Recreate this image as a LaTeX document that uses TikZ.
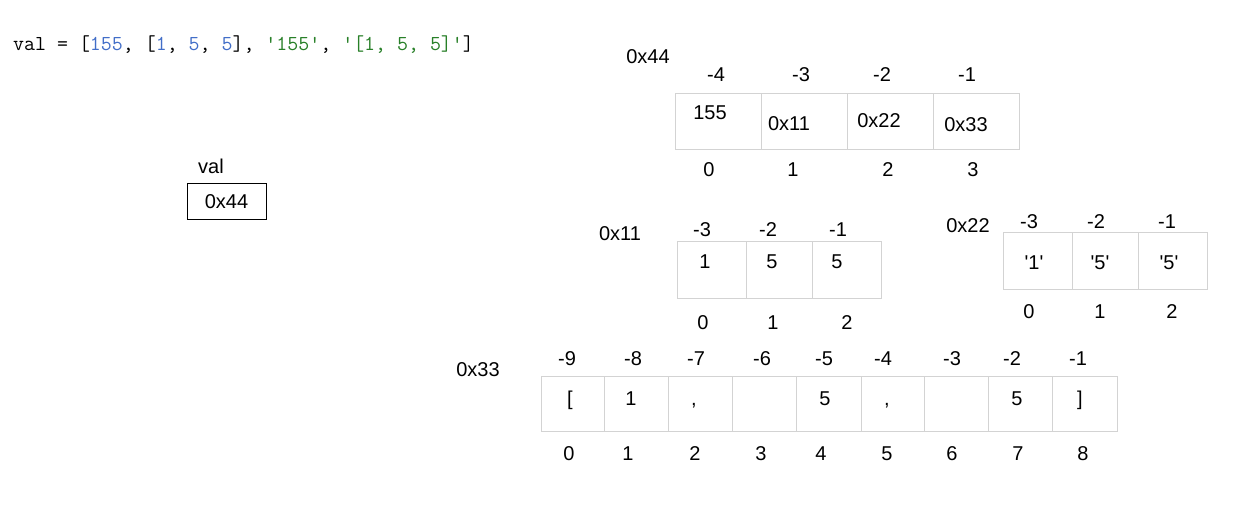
\documentclass[tikz,border=0pt]{standalone}
\usepackage{fontspec}
\setmainfont{Liberation Sans}[Ligatures=TeXOff]
\usepackage{tikz}
\usetikzlibrary{positioning}
\definecolor{cellgray}{RGB}{211,211,211}
\definecolor{codeblue}{RGB}{66,110,200}
\definecolor{codegreen}{RGB}{40,128,40}

\begin{document}
\begin{tikzpicture}[x=1pt, y=-1pt,
    txt/.style={inner sep=0, text height=14pt, text depth=0pt, font=\fontsize{20}{23}\selectfont},
    cellbox/.style={draw=cellgray, line width=1pt, inner sep=0, minimum height=56pt},
    ptr/.style={txt, draw=black, line width=1pt, minimum width=79pt, minimum height=36pt}
]
    \useasboundingbox[fill=white] (0,0) rectangle (1253,512);

    % source line
    \node[anchor=west, inner sep=0, font=\ttfamily\fontsize{21.3}{23}\selectfont] (code) at (13,45)
        {val = [\textcolor{codeblue}{155}, [\textcolor{codeblue}{1}, \textcolor{codeblue}{5}, \textcolor{codeblue}{5}], \textcolor{codegreen}{\textquotesingle155\textquotesingle}, \textcolor{codegreen}{\textquotesingle[1, 5, 5]\textquotesingle}]};

    % the name val
    \node[txt] (vallbl) at (211,166) {val};
    \node[ptr] (valbox) at (226.5,201) {0x44};

    % list at 0x44
    \node[txt] (lbl44) at (648,56) {0x44};
    \foreach \cx [count=\i from 0] in {718,804,890,976}
        \node[cellbox, minimum width=86pt] (a44c\i) at (\cx,121) {};
    \foreach \x/\y/\t [count=\i from 0] in {710/112/155, 789/123/0x11, 879/120/0x22, 966/124/0x33}
        \node[txt] (a44v\i) at (\x,\y) {\t};
    \foreach \x/\t [count=\i from 0] in {716/-4, 801/-3, 882/-2, 967/-1}
        \node[txt] (a44n\i) at (\x,74) {\t};
    \foreach \x [count=\i from 0] in {709,793,888,973}
        \node[txt] (a44p\i) at (\x,169) {\i};

    % list at 0x11
    \node[txt] (lbl11) at (620,233) {0x11};
    \foreach \cx/\w [count=\i from 0] in {711.5/69, 779/66, 846.5/69}
        \node[cellbox, minimum width=\w pt, minimum height=57pt] (a11c\i) at (\cx,269.5) {};
    \foreach \x/\t [count=\i from 0] in {705/1, 772/5, 837/5}
        \node[txt] (a11v\i) at (\x,261) {\t};
    \foreach \x/\t [count=\i from 0] in {702/-3, 768/-2, 838/-1}
        \node[txt] (a11n\i) at (\x,229) {\t};
    \foreach \x [count=\i from 0] in {703,773,847}
        \node[txt] (a11p\i) at (\x,322) {\i};

    % string at 0x22
    \node[txt] (lbl22) at (968,225) {0x22};
    \foreach \cx/\w [count=\i from 0] in {1037.5/69, 1105/66, 1172.5/69}
        \node[cellbox, minimum width=\w pt, minimum height=57pt] (a22c\i) at (\cx,260.5) {};
    \foreach \x/\t [count=\i from 0] in {1034/'1', 1100/'5', 1169/'5'}
        \node[txt] (a22v\i) at (\x,262) {\t};
    \foreach \x/\t [count=\i from 0] in {1029/-3, 1096/-2, 1167/-1}
        \node[txt] (a22n\i) at (\x,221) {\t};
    \foreach \x [count=\i from 0] in {1029,1100,1172}
        \node[txt] (a22p\i) at (\x,311) {\i};

    % string at 0x33
    \node[txt] (lbl33) at (478,369) {0x33};
    \foreach \cx/\w [count=\i from 0] in {572.75/63.5, 636.25/63.5, 700/64, 764/64, 828.5/65, 892.5/63, 956/64, 1020/64, 1084.5/65}
        \node[cellbox, minimum width=\w pt, minimum height=55pt] (a33c\i) at (\cx,403.5) {};
    \foreach \x/\t [count=\i from 0] in {570/[, 631/1, 694/{,}, 764/{}, 825/5, 887/{,}, 956/{}, 1017/5, 1080/]}
        \node[txt] (a33v\i) at (\x,398) {\t};
    \foreach \x/\t [count=\i from 0] in {567/-9, 633/-8, 696/-7, 762/-6, 824/-5, 883/-4, 952/-3, 1012/-2, 1078/-1}
        \node[txt] (a33n\i) at (\x,358) {\t};
    \foreach \x [count=\i from 0] in {569,628,695,761,821,887,952,1018,1083}
        \node[txt] (a33p\i) at (\x,453) {\i};
\end{tikzpicture}
\end{document}
